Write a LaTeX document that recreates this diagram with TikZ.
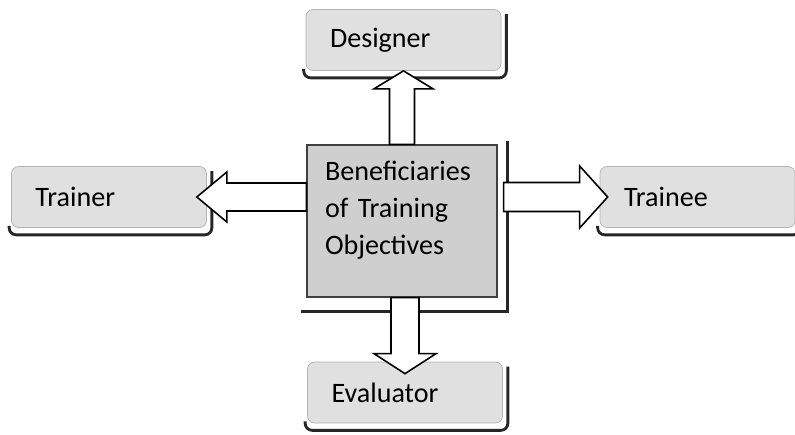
\documentclass[tikz,border=0pt]{standalone}
\usepackage{fontspec}
\setmainfont{Carlito}
\usetikzlibrary{calc}
\tikzset{
    role/.style={draw=gray!60, fill=gray!24, rounded corners=4pt, minimum width=3.9cm, minimum height=1.22cm,
        text width=2.94cm, inner xsep=0.48cm, align=left, font=\fontsize{16}{21}\selectfont},
    core/.style={draw=black!75, line width=0.8pt, fill=gray!38, minimum width=3.8cm, minimum height=3.04cm},
    rim/.style={line width=1.6pt, black!85},
    blockarrow/.style={draw=black, line width=0.9pt, fill=white, line join=miter}
}
\begin{document}
\begin{tikzpicture}
        \useasboundingbox (0,0) rectangle (15.9,8.68);
        % boxes
        \node[core] (ben) at (8.04,4.26) {};
        \node[align=left, text width=3.08cm, font=\fontsize{16}{21}\selectfont] (bentxt) at (8.04,4.48) {Beneficiaries\\of Training\\Objectives};
        \node[role] (des) at (8.07,7.88) {Designer};
        \node[role] (tnr) at (2.18,4.74) {Trainer};
        \node[role] (tne) at (13.95,4.74) {Trainee};
        \node[role] (eva) at (8.10,0.83) {Evaluator};
        % shadow rims
        \draw[rim] ([xshift=-0.1cm]ben.south west) ++(0,-0.28) -| ([xshift=0.2cm,yshift=0.06cm]ben.north east);
        \draw[rim, rounded corners=4pt] ([xshift=-0.04cm,yshift=0.04cm]des.south west) -- ++(0,-0.18) -| ([xshift=0.1cm,yshift=-0.1cm]des.north east);
        \draw[rim, rounded corners=4pt] ([xshift=-0.04cm,yshift=0.04cm]tnr.south west) -- ++(0,-0.18) -| ([xshift=0.1cm,yshift=-0.1cm]tnr.north east);
        \draw[rim, rounded corners=4pt] ([xshift=-0.04cm,yshift=0.04cm]tne.south west) -- ++(0,-0.18) -| ([xshift=0.1cm,yshift=-0.1cm]tne.north east);
        \draw[rim, rounded corners=4pt] ([xshift=-0.04cm,yshift=0.04cm]eva.south west) -- ++(0,-0.18) -| ([xshift=0.1cm,yshift=-0.1cm]eva.north east);
        % arrows
        \coordinate (ltip) at ([xshift=-0.2cm]tnr.east);
        \coordinate (rtip) at ([xshift=0.16cm]tne.west);
        \coordinate (dtip) at ([yshift=-0.24cm]eva.north);
        \draw[blockarrow] ([xshift=-0.25cm]ben.north) |- ([xshift=-0.59cm,yshift=-0.36cm]des.south) -- (des.south)
            -- ([xshift=0.59cm,yshift=-0.36cm]des.south) -| ([xshift=0.25cm]ben.north) -- cycle; % up
        \draw[blockarrow] (ltip) -- ++(0.6,0.5) -- ++(0,-0.22) -- ($(ltip -| ben.west)+(0,0.28)$) -- ++(0,-0.56)
            -- ($(ltip)+(0.6,-0.28)$) -- ++(0,-0.22) -- cycle; % left
        \draw[blockarrow] (rtip) -- ++(-0.56,0.62) -- ++(0,-0.33) -- ($(rtip -| ben.east)+(0.12,0.29)$) -- ++(0,-0.58)
            -- ($(rtip)+(-0.56,-0.29)$) -- ++(0,-0.33) -- cycle; % right
        \draw[blockarrow] (dtip) -- ++(-0.62,0.4) -- ++(0.34,0) -- ($(dtip |- ben.south)+(-0.28,0)$) -- ++(0.56,0)
            -- ($(dtip)+(0.28,0.4)$) -- ++(0.34,0) -- cycle; % down
\end{tikzpicture}
\end{document}
